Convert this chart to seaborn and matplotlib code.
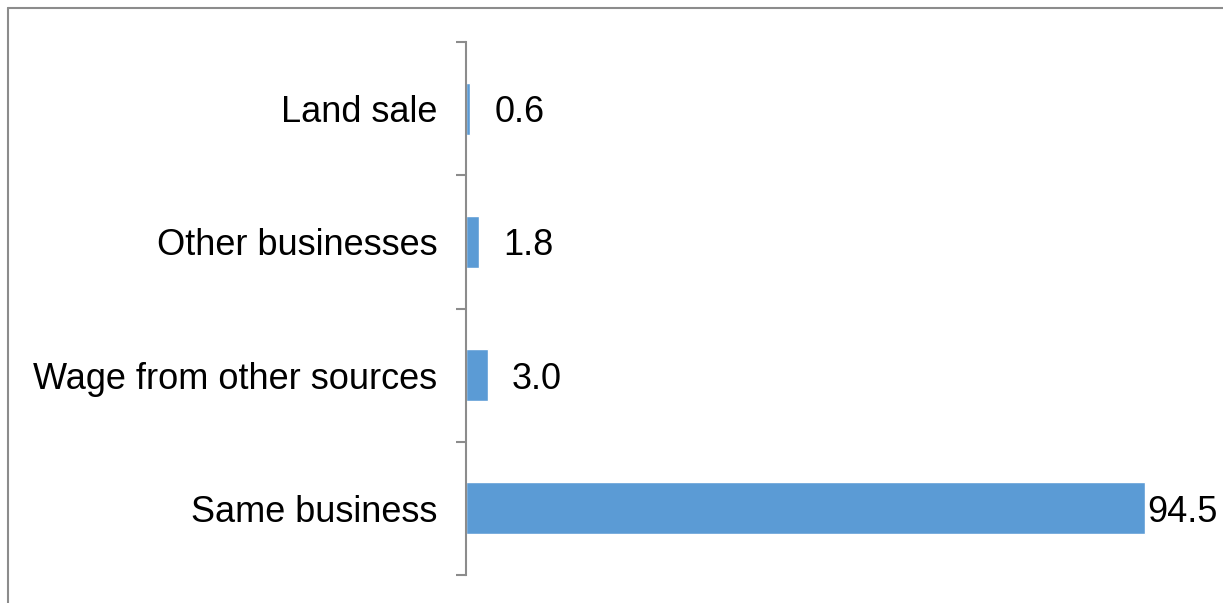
import pandas as pd
import numpy as np
import matplotlib
matplotlib.use('Agg')
import matplotlib.pyplot as plt
from matplotlib.lines import Line2D
import seaborn as sns

sources = ['Land sale', 'Other businesses', 'Wage from other sources', 'Same business']
shares = [0.6, 1.8, 3.0, 94.5]

sns.set_style('white')
plt.rcParams['font.family'] = ['Liberation Sans', 'DejaVu Sans']

W, H = 1223, 603
fig = plt.figure(figsize=(W / 100, H / 100), dpi=100)
# plot area in pixels: left spine at 466, top 42, bottom 575
ax = fig.add_axes([466 / W, (H - 575) / H, (W - 466) / W, (575 - 42) / H])

df = pd.DataFrame({'source': sources, 'share': shares})
sns.barplot(data=df, y='source', x='share', orient='h', color='#5B9BD5',
            width=0.39, saturation=1, ax=ax)

# 94.5 ends at x=1145 px
xmax = 94.5 * (W - 466) / (1145 - 466)
ax.set_xlim(0, xmax)
ax.set_ylim(len(sources) - 0.5, -0.5)

for s in ['top', 'right', 'bottom']:
    ax.spines[s].set_visible(False)
ax.spines['left'].set_color('#8c8c8c')
ax.spines['left'].set_linewidth(1.5)
ax.xaxis.set_visible(False)
ax.set_ylabel('')

# ticks sit between categories, labels at centres
ax.set_yticks(np.arange(len(sources) + 1) - 0.5)
ax.set_yticklabels([])
ax.set_yticks(np.arange(len(sources)), minor=True)
ax.set_yticklabels(sources, minor=True, fontsize=26, color='black')
ax.tick_params(axis='y', which='major', length=7.2, width=1.5, color='#8c8c8c', direction='out', left=True)
ax.tick_params(axis='y', which='minor', length=0, pad=20.5)

px = xmax / (W - 466)
for i, v in enumerate(shares):
    pad = 24 if v * (1 / px) + 80 < (W - 466) else 2
    ax.text(v + pad * px, i, f'{v:.1f}', va='center_baseline', ha='left', fontsize=26, color='black')

# outer frame (left and top visible)
fig.add_artist(Line2D([8 / W, 8 / W], [0, 1 - 8 / H], transform=fig.transFigure, color='#8c8c8c', lw=1.5))
fig.add_artist(Line2D([8 / W, 1], [1 - 8 / H, 1 - 8 / H], transform=fig.transFigure, color='#8c8c8c', lw=1.5))

fig.savefig('out.png', dpi=100)
